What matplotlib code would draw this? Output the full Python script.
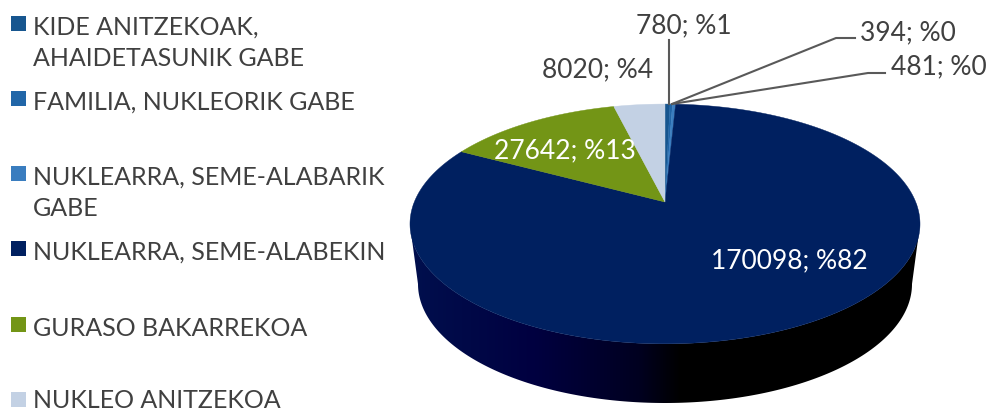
import numpy as np
import matplotlib
matplotlib.use('Agg')
import matplotlib.pyplot as plt
from matplotlib.colors import LinearSegmentedColormap
from matplotlib.patches import Polygon, Rectangle

plt.rcParams['font.family'] = ['Lato', 'DejaVu Sans']

# data
categories = ['KIDE ANITZEKOAK,\nAHAIDETASUNIK GABE', 'FAMILIA, NUKLEORIK GABE',
              'NUKLEARRA, SEME-ALABARIK\nGABE', 'NUKLEARRA, SEME-ALABEKIN',
              'GURASO BAKARREKOA', 'NUKLEO ANITZEKOA']
values = [780, 394, 481, 170098, 27642, 8020]
percents = [1, 0, 0, 82, 13, 4]

# palette
COLORS = ['#17568F', '#2166A8', '#3A7DBF', '#002060', '#739516', '#C3D1E4']
TEXT_C = '#404040'
LINE_C = '#595959'

# pie geometry, in pixels of the 987x412 picture
CX, APEX_Y = 665, 202
PX = 250.7
K, B = 0.183, -78.9     # perspective of the tilted disc
DEPTH_CY, DEPTH_RX, DEPTH_RY = 284, 247, 119


def project(theta):
    """Clockwise angle from 12 o'clock -> picture coords on the tilted top face."""
    u, v = np.sin(theta), np.cos(theta)
    w = 1 + K * v
    return CX + PX * u / w, (APEX_Y + B * v) / w


fig = plt.figure(figsize=(9.87, 4.12), dpi=100)
ax = fig.add_axes([0, 0, 1, 1])
ax.axis('off')

# side wall: gradient clipped to the band between the top and the lower rim
t = np.linspace(np.pi / 2, 3 * np.pi / 2, 200)
tx, ty = project(t)
bt = np.linspace(np.pi, 0, 200)
bx = CX + DEPTH_RX * np.cos(bt)
by = DEPTH_CY + DEPTH_RY * np.sin(bt)
order = np.argsort(tx)
side = Polygon(np.column_stack([np.r_[tx[order], bx[::-1]], np.r_[ty[order], by[::-1]]]),
               closed=True, transform=ax.transData, fc='none', ec='none')
ax.add_patch(side)
cmap = LinearSegmentedColormap.from_list(
    'side', [(0, '#00104E'), (0.25, '#000040'), (0.45, '#000020'), (0.53, '#000000'), (1, '#000000')])
im = ax.imshow(np.linspace(0, 1, 256).reshape(1, -1), cmap=cmap, aspect='auto',
               extent=[405, 925, 412, 100], zorder=1)
im.set_clip_path(side)
ax.set_xlim(0, 987)
ax.set_ylim(412, 0)

# top face
edges = np.r_[0, np.cumsum(values)] / np.sum(values) * 2 * np.pi
for i, color in enumerate(COLORS):
    th = np.linspace(edges[i], edges[i + 1], max(3, int((edges[i + 1] - edges[i]) * 80)))
    x, y = project(th)
    ax.add_patch(Polygon(np.column_stack([np.r_[CX, x], np.r_[APEX_Y, y]]), closed=True,
                         fc=color, ec=color, lw=0.3, zorder=2))

# leader lines
ax.plot([669, 669], [40, 104], color=LINE_C, lw=1.5, zorder=3)
ax.plot([672, 836, 855], [104, 38, 38], color=LINE_C, lw=1.5, zorder=3)
ax.plot([672, 868, 885], [104, 73, 73], color=LINE_C, lw=1.5, zorder=3)


def data_label(i, x, y, color=TEXT_C, ha='center'):
    ax.text(x, y, f'{values[i]}; %{percents[i]}', color=color, fontsize=19,
            ha=ha, va='center', zorder=4)


data_label(0, 684, 26)
data_label(1, 860, 33, ha='left')
data_label(2, 891, 67, ha='left')
data_label(3, 789, 261, color='white')
data_label(4, 565, 151, color='white')
data_label(5, 598, 70)

# legend
square_y = [16, 91, 166, 241, 317, 392]
text_y = [43, 102, 193, 252, 328, 400]
for i, name in enumerate(categories):
    ax.add_patch(Rectangle((11, square_y[i]), 15, 15, fc=COLORS[i], ec='none'))
    ax.text(33, text_y[i], name, color=TEXT_C, fontsize=18, ha='left', va='center',
            linespacing=1.44)

plt.savefig('out.png', dpi=100, facecolor='white')
plt.close()
